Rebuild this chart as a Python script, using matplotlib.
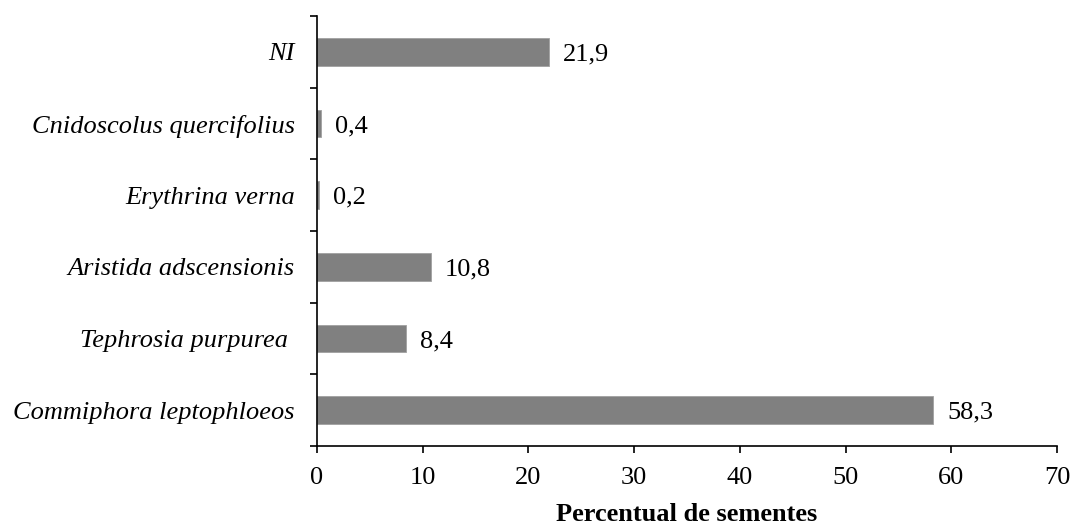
import numpy as np
import matplotlib.pyplot as plt
from matplotlib.ticker import FixedLocator

plt.rcParams['font.family'] = ['Liberation Serif', 'DejaVu Serif']

# Data (bottom to top)
species = ['Commiphora leptophloeos', 'Tephrosia purpurea ', 'Aristida adscensionis',
           'Erythrina verna', 'Cnidoscolus quercifolius', 'NI']
values = [58.3, 8.4, 10.8, 0.2, 0.4, 21.9]
value_labels = ['58,3', '8,4', '10,8', '0,2', '0,4', '21,9']

fs = 19

fig = plt.figure(figsize=(10.72, 5.27), dpi=100)
ax = fig.add_axes([0.2957, 0.1537, 0.9860 - 0.2957, 0.9696 - 0.1537])

y = np.arange(len(species))
ax.barh(y, values, height=0.39, color='#808080', edgecolor='#a0a0a0', linewidth=0.6)

for yi, v, lab in zip(y, values, value_labels):
    ax.annotate(lab, (v, yi), xytext=(10, 0), textcoords='offset points',
                va='center_baseline', ha='left', fontsize=fs)

ax.set_xlim(0, 70)
ax.set_ylim(-0.5, len(species) - 0.5)
ax.set_xticks(np.arange(0, 71, 10))
ax.set_yticks(y)
ax.set_yticklabels(species, fontstyle='italic', fontsize=fs)
ax.yaxis.set_minor_locator(FixedLocator(np.arange(-0.5, len(species), 1.0)))
ax.tick_params(axis='y', which='major', length=0, pad=16)
ax.tick_params(axis='y', which='minor', length=5, width=1.2, direction='out')
ax.tick_params(axis='x', length=5, width=1.2, direction='out', labelsize=fs, pad=10)

for s in ['top', 'right']:
    ax.spines[s].set_visible(False)
for s in ['left', 'bottom']:
    ax.spines[s].set_linewidth(1.2)

ax.set_xlabel('Percentual de sementes', fontsize=fs, fontweight='bold', labelpad=10)

fig.savefig('out.png', dpi=100)
